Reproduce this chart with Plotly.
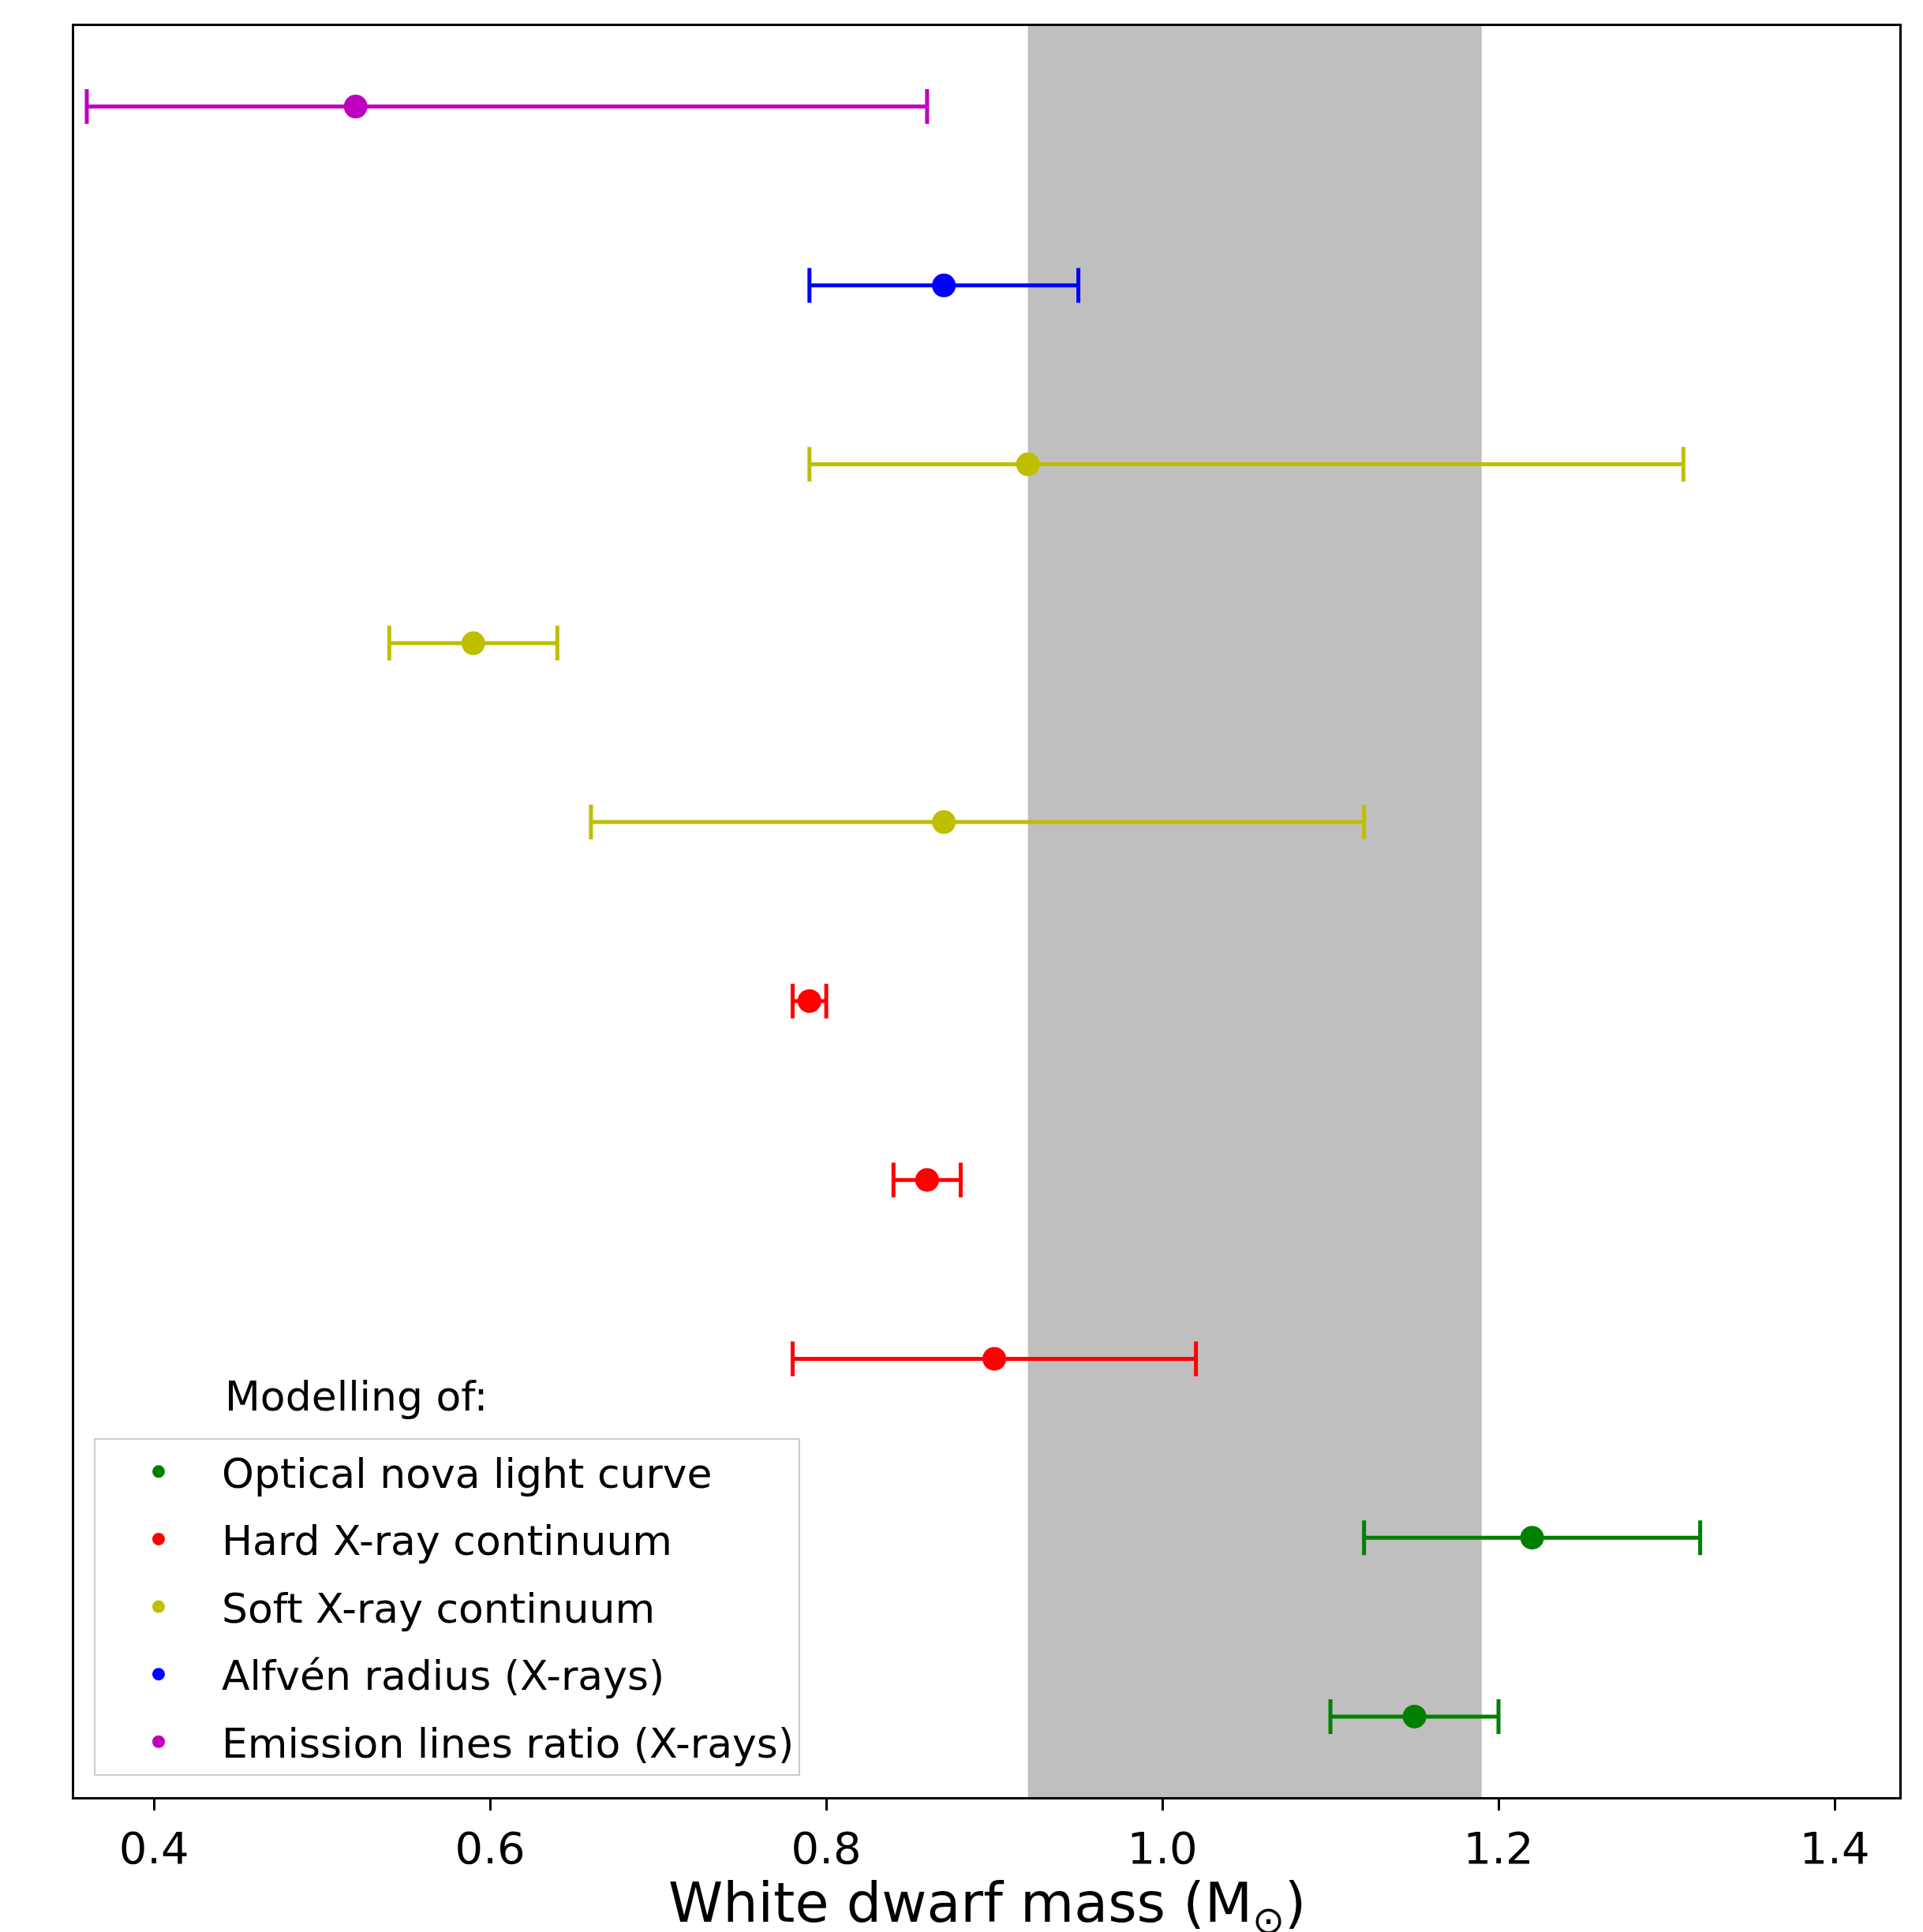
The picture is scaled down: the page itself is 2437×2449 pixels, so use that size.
import plotly.graph_objects as go

# ---- data ----
categories = ["Optical nova light curve", "Hard X-ray continuum", "Soft X-ray continuum",
              "Alfvén radius (X-rays)", "Emission lines ratio (X-rays)"]
colors = ["#008000", "#ff0000", "#bfbf00", "#0000ff", "#bf00bf"]

optical_row = [1, 2]
optical_mass = [1.15, 1.22]
optical_plus = [0.05, 0.10]
optical_minus = [0.05, 0.10]

hard_row = [3, 4, 5]
hard_mass = [0.90, 0.86, 0.79]
hard_plus = [0.12, 0.02, 0.01]
hard_minus = [0.12, 0.02, 0.01]

soft_row = [6, 7, 8]
soft_mass = [0.87, 0.59, 0.92]
soft_plus = [0.25, 0.05, 0.39]
soft_minus = [0.21, 0.05, 0.13]

alfven_row = [9]
alfven_mass = [0.87]
alfven_plus = [0.08]
alfven_minus = [0.08]

emission_row = [10]
emission_mass = [0.52]
emission_plus = [0.34]
emission_minus = [0.16]

band_lo, band_hi = 0.92, 1.19
x_ticks = [0.4, 0.6, 0.8, 1.0, 1.2, 1.4]
x_title = "White dwarf mass (M<sub>⊙</sub>)"
legend_title = "Modelling of:"

series = [
    (optical_row, optical_mass, optical_plus, optical_minus),
    (hard_row, hard_mass, hard_plus, hard_minus),
    (soft_row, soft_mass, soft_plus, soft_minus),
    (alfven_row, alfven_mass, alfven_plus, alfven_minus),
    (emission_row, emission_mass, emission_plus, emission_minus),
]

FONT = "DejaVu Sans"
fig = go.Figure()
for i, (name, color, (rows, mass, ep, em)) in enumerate(zip(categories, colors, series)):
    fig.add_trace(go.Scatter(
        x=mass, y=rows, mode="markers", name=name, legendgroup=f"g{i}",
        marker=dict(color=color, size=30),
        error_x=dict(type="data", symmetric=False, array=ep, arrayminus=em,
                     color=color, thickness=5, width=22),
    ))

# shaded band behind the data
fig.add_shape(type="rect", xref="x", yref="paper", x0=band_lo, x1=band_hi, y0=0, y1=1,
              fillcolor="#bfbfbf", line=dict(width=0), layer="below")

fig.add_annotation(text=legend_title, xref="paper", yref="paper", x=0.0817, y=0.2263,
                   xanchor="left", yanchor="middle", showarrow=False,
                   font=dict(family=FONT, size=52, color="black"))

# x-axis title (placed explicitly, partly cut by the figure edge as in the original)
fig.add_annotation(text=x_title, xref="paper", yref="paper", x=0.5, y=-0.062,
                   xanchor="center", yanchor="middle", showarrow=False,
                   font=dict(family=FONT, size=70, color="black"))

fig.update_layout(
    width=2437, height=2449,
    margin=dict(l=94, r=30, t=33, b=171),
    paper_bgcolor="white", plot_bgcolor="white",
    font=dict(family=FONT, color="black"),
    showlegend=True,
    legend=dict(x=0.0108, y=0.012, xanchor="left", yanchor="bottom",
                bgcolor="white", bordercolor="#cccccc", borderwidth=2,
                font=dict(family=FONT, size=52, color="black"),
                itemwidth=150, itemsizing="trace",
                traceorder="grouped", tracegroupgap=15),
    xaxis=dict(range=[0.3525, 1.4385], tickvals=x_ticks, tickformat=".1f",
               ticks="outside", ticklen=14, tickwidth=3, tickcolor="black",
               showline=True, linecolor="black", linewidth=3, mirror=True,
               showgrid=False, zeroline=False, automargin=False,
               tickfont=dict(family=FONT, size=56, color="black")),
    yaxis=dict(range=[0.55, 10.45], showticklabels=False, ticks="",
               showline=True, linecolor="black", linewidth=3, mirror=True,
               showgrid=False, zeroline=False, automargin=False),
)

fig.write_html("out.html")
